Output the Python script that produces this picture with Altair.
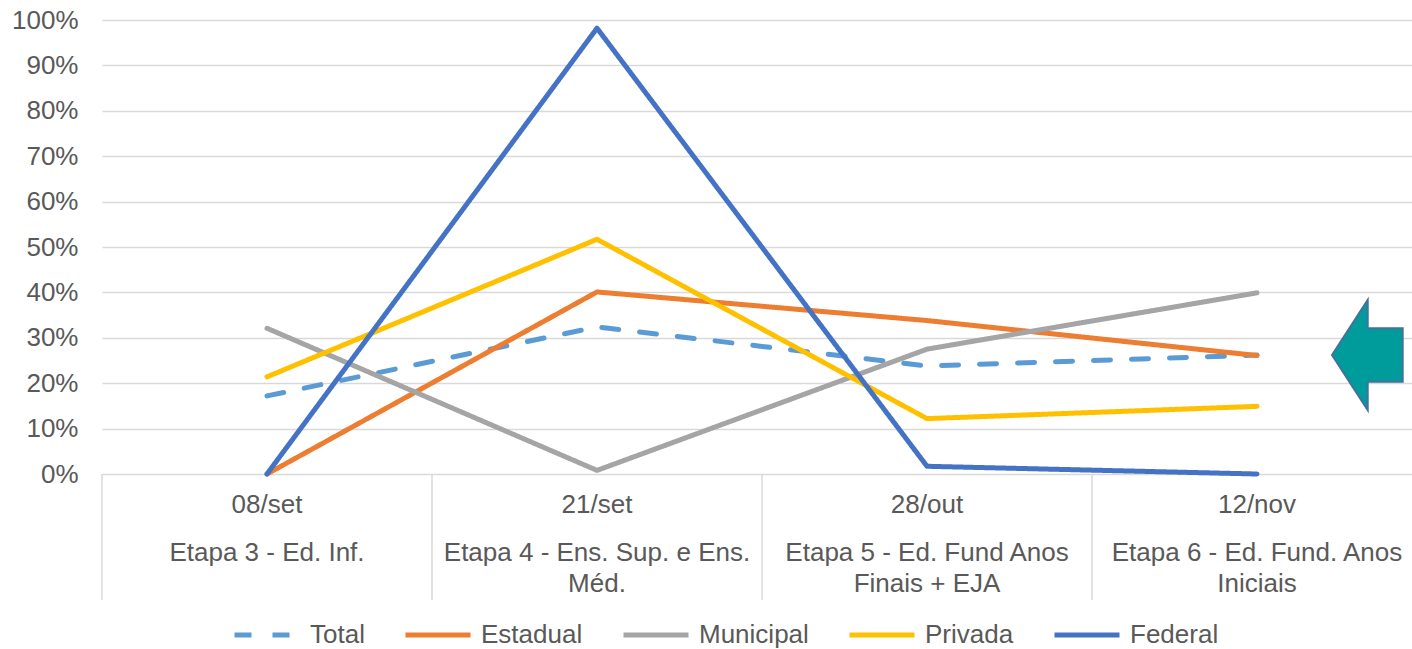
import altair as alt
import pandas as pd

# ---- data ----
dates = ["08/set", "21/set", "28/out", "12/nov"]
stages = [
    "Etapa 3 - Ed. Inf.",
    "Etapa 4 - Ens. Sup. e Ens.\nMéd.",
    "Etapa 5 - Ed. Fund Anos\nFinais + EJA",
    "Etapa 6 - Ed. Fund. Anos\nIniciais",
]
series_names = ["Total", "Estadual", "Municipal", "Privada", "Federal"]
total = [17.2, 32.4, 23.8, 26.2]
estadual = [0.0, 40.1, 33.8, 26.1]
municipal = [32.1, 0.8, 27.5, 39.9]
privada = [21.4, 51.7, 12.2, 14.9]
federal = [0.0, 98.2, 1.7, 0.0]
y_ticks = [0.0, 0.1, 0.2, 0.3, 0.4, 0.5, 0.6, 0.7, 0.8, 0.9, 1.0]
separators = [-0.5, 0.5, 1.5, 2.5]

colors = ["#5B9BD5", "#ED7D31", "#A5A5A5", "#FFC000", "#4472C4"]
dashes = [[17, 21], [1, 0], [1, 0], [1, 0], [1, 0]]

FONT = "Liberation Sans"
TXT = "#595959"
GRID = "#D9D9D9"

rows = []
for name, vals in zip(series_names, [total, estadual, municipal, privada, federal]):
    for i, v in enumerate(vals):
        rows.append({"idx": i, "series": name, "value": v / 100.0})
df = pd.DataFrame(rows)
labels_df = pd.DataFrame({"idx": list(range(len(dates))), "date": dates, "stage": stages})
sep_df = pd.DataFrame({"pos": separators})

xscale = alt.Scale(domain=[-0.5, 3.4697], nice=False, zero=False)

def make_legend():
    return alt.Legend(
        title=None, orient="none", legendX=130, legendY=580, direction="horizontal",
        symbolType="stroke", symbolSize=4225, symbolStrokeWidth=5,
        labelFont=FONT, labelFontSize=26, labelColor=TXT,
        columnPadding=30, labelOffset=8, padding=0,
    )

lines = alt.Chart(df).mark_line(strokeWidth=5, strokeCap="round", strokeJoin="round").encode(
    x=alt.X("idx:Q", scale=xscale, axis=None),
    y=alt.Y(
        "value:Q",
        scale=alt.Scale(domain=[0, 1], nice=False),
        axis=alt.Axis(
            values=y_ticks, format=".0%", title=None, ticks=False, tickSize=0, domain=False,
            grid=True, gridColor=GRID, gridWidth=1.5,
            labelFont=FONT, labelFontSize=26, labelColor=TXT, labelPadding=24,
        ),
    ),
    color=alt.Color("series:N", scale=alt.Scale(domain=series_names, range=colors), legend=make_legend()),
    strokeDash=alt.StrokeDash("series:N", scale=alt.Scale(domain=series_names, range=dashes), legend=make_legend()),
)

seps = alt.Chart(sep_df).mark_rule(color=GRID, strokeWidth=1.5).encode(
    x=alt.X("pos:Q", scale=xscale, axis=None),
    y=alt.value(454),
    y2=alt.value(580),
)

date_text = alt.Chart(labels_df).mark_text(
    font=FONT, fontSize=26, color=TXT, align="center", baseline="alphabetic"
).encode(
    x=alt.X("idx:Q", scale=xscale, axis=None),
    y=alt.value(493),
    text="date:N",
)

stage_text = alt.Chart(labels_df).mark_text(
    font=FONT, fontSize=26, color=TXT, align="center", baseline="alphabetic",
    lineBreak="\n", lineHeight=31,
).encode(
    x=alt.X("idx:Q", scale=xscale, axis=None),
    y=alt.value(541),
    text="stage:N",
)

arrow_path = "M -0.636 0 L 0.013 -1 L 0.013 -0.485 L 0.649 -0.485 L 0.649 0.485 L 0.013 0.485 L 0.013 1 Z"
arrow = alt.Chart(pd.DataFrame({"a": [0]})).mark_point(
    shape=arrow_path, size=12100, filled=True, fill="#009C9C", stroke="#41719C",
    strokeWidth=2, opacity=1, fillOpacity=1, strokeOpacity=1,
).encode(x=alt.value(1265), y=alt.value(335))

chart = alt.layer(seps, lines, date_text, stage_text, arrow).properties(
    width=1310,
    height=454,
    padding={"left": 102, "top": 20, "right": 0, "bottom": 175},
    autosize=alt.AutoSizeParams(type="none"),
    background="white",
).configure_view(stroke=None)

chart.save("out.html", embed_options={"renderer": "svg", "actions": False})
